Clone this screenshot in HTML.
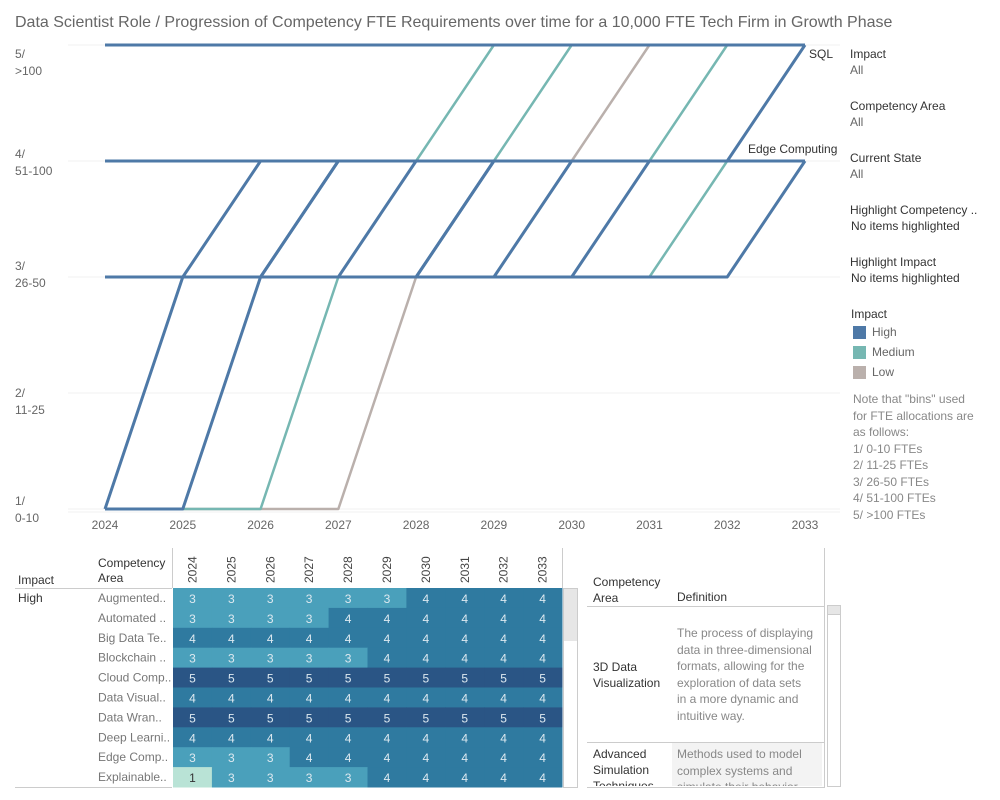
<!DOCTYPE html>
<html><head><meta charset="utf-8">
<style>
body{margin:0;width:1000px;height:800px;background:#fff;font-family:"Liberation Sans",sans-serif;overflow:hidden;position:relative}
.t{position:absolute;font-size:12px;color:#333;white-space:nowrap}
.g{color:#666}
</style></head><body>
<div class="t" style="left:15px;top:14px;font-size:16px;color:#666">Data Scientist Role / Progression of Competency FTE Requirements over time for a 10,000 FTE Tech Firm in Growth Phase</div>

<svg id="chart" width="1000" height="800" style="position:absolute;left:0;top:0"></svg>

<div>
<div class="t" style="left:850px;top:47px">Impact</div>
<div class="t g" style="left:850px;top:63px">All</div>
<div class="t" style="left:850px;top:99px">Competency Area</div>
<div class="t g" style="left:850px;top:115px">All</div>
<div class="t" style="left:850px;top:151px">Current State</div>
<div class="t g" style="left:850px;top:167px">All</div>
<div class="t" style="left:850px;top:203px">Highlight Competency ..</div>
<div class="t" style="left:851px;top:219px">No items highlighted</div>
<div class="t" style="left:850px;top:255px">Highlight Impact</div>
<div class="t" style="left:851px;top:271px">No items highlighted</div>
<div class="t" style="left:851px;top:307px">Impact</div>
<div><div style="position:absolute;left:853px;top:326px;width:13px;height:13px;background:#4e79a7"></div><div class="t g" style="left:872px;top:325px">High</div></div>
<div><div style="position:absolute;left:853px;top:346px;width:13px;height:13px;background:#76b7b2"></div><div class="t g" style="left:872px;top:345px">Medium</div></div>
<div><div style="position:absolute;left:853px;top:366px;width:13px;height:13px;background:#bab0ac"></div><div class="t g" style="left:872px;top:365px">Low</div></div>
<div class="t" style="left:853px;top:391px;color:#888;line-height:16.5px">Note that "bins" used<br>for FTE allocations are<br>as follows:<br>1/ 0-10 FTEs<br>2/ 11-25 FTEs<br>3/ 26-50 FTEs<br>4/ 51-100 FTEs<br>5/ &gt;100 FTEs</div>
</div>

<div>
<div class="t" style="left:593px;top:574px;line-height:16px">Competency<br>Area</div>
<div class="t" style="left:677px;top:590px">Definition</div>
<div style="position:absolute;left:587px;top:606px;width:237px;height:1px;background:#ccc"></div>
<div class="t" style="left:593px;top:659px;line-height:16px">3D Data<br>Visualization</div>
<div class="t g" style="left:677px;top:625px;line-height:16.5px;color:#888">The process of displaying<br>data in three-dimensional<br>formats, allowing for the<br>exploration of data sets<br>in a more dynamic and<br>intuitive way.</div>
<div style="position:absolute;left:587px;top:742px;width:237px;height:1px;background:#ccc"></div>
<div style="position:absolute;left:672px;top:743px;width:150px;height:44px;background:#f3f3f3"></div>
<div class="t" style="left:593px;top:746px;line-height:16px">Advanced<br>Simulation<br>Techniques</div>
<div class="t" style="left:677px;top:746px;line-height:16.5px;color:#888">Methods used to model<br>complex systems and<br>simulate their behavior</div>
<div style="position:absolute;left:587px;top:786px;width:237px;height:14px;background:#fff"></div>
<div style="position:absolute;left:824px;top:548px;width:1px;height:240px;background:#ccc"></div>
<div style="position:absolute;left:827px;top:605px;width:14px;height:182px;border:1px solid #ccc;box-sizing:border-box"><div style="height:8px;background:#e6e6e6;border-bottom:1px solid #ccc"></div></div>
<div style="position:absolute;left:587px;top:787px;width:237px;height:1px;background:#ccc"></div>
</div>

<script>
const years = [2024,2025,2026,2027,2028,2029,2030,2031,2032,2033];
const levelLabels = ["1/\n0-10","2/\n11-25","3/\n26-50","4/\n51-100","5/\n>100"];
const seriesNames = ["Low A","Low B","Medium A","Medium B","Medium C","Medium D","Cloud Computing","Big Data","Augmented","Automated","Blockchain","Edge Computing","Explainable","High F","High G","High H","SQL","High I"];
const seriesImpact = ["Low","Low","Medium","Medium","Medium","Medium","High","High","High","High","High","High","High","High","High","High","High","High"];
const seriesValues = [
 [1,1,1,1,3,3,4,4,4,4],
 [4,4,4,4,4,4,4,5,5,5],
 [1,1,1,3,3,3,3,3,4,4],
 [4,4,4,4,4,5,5,5,5,5],
 [4,4,4,4,4,4,5,5,5,5],
 [4,4,4,4,4,4,4,4,5,5],
 [5,5,5,5,5,5,5,5,5,5],
 [4,4,4,4,4,4,4,4,4,4],
 [3,3,3,3,3,3,4,4,4,4],
 [3,3,3,3,4,4,4,4,4,4],
 [3,3,3,3,3,4,4,4,4,4],
 [3,3,3,4,4,4,4,4,4,4],
 [1,3,3,3,3,4,4,4,4,4],
 [1,1,3,4,4,4,4,4,4,4],
 [3,3,3,3,3,3,3,4,4,4],
 [3,3,3,3,3,3,3,3,3,4],
 [4,4,4,4,4,4,4,4,4,5],
 [3,3,4,4,4,4,4,4,4,4]
];
const hmRows = ["Augmented..","Automated ..","Big Data Te..","Blockchain ..","Cloud Comp..","Data Visual..","Data Wran..","Deep Learni..","Edge Comp..","Explainable.."];
const hmValues = [
 [3,3,3,3,3,3,4,4,4,4],
 [3,3,3,3,4,4,4,4,4,4],
 [4,4,4,4,4,4,4,4,4,4],
 [3,3,3,3,3,4,4,4,4,4],
 [5,5,5,5,5,5,5,5,5,5],
 [4,4,4,4,4,4,4,4,4,4],
 [5,5,5,5,5,5,5,5,5,5],
 [4,4,4,4,4,4,4,4,4,4],
 [3,3,3,4,4,4,4,4,4,4],
 [1,3,3,3,3,4,4,4,4,4]
];

const NS="http://www.w3.org/2000/svg";
const svg=document.getElementById('chart');
function mk(tag,attrs,parent){const e=document.createElementNS(NS,tag);for(const k in attrs)e.setAttribute(k,attrs[k]);(parent||svg).appendChild(e);return e;}
const x=y=>105+(y-2024)*(805-105)/9;
const yv=v=>509-(v-1)*116;
const labelShift=[-4,4,-7,-3,13];
const colors={High:"#4e79a7",Medium:"#76b7b2",Low:"#bab0ac"};

for(let v=1;v<=5;v++){
  const gl=mk('line',{x1:68,x2:840,y1:yv(v),y2:yv(v),stroke:"#f0f0f0"});
  
  
  const parts=levelLabels[v-1].split("\n");
  const t=mk('text',{x:15,y:yv(v)+labelShift[v-1],fill:"#666","font-size":12,"font-family":"Liberation Sans"});
  
  
  mk('tspan',{x:15,dy:0},t).textContent=parts[0];
  mk('tspan',{x:15,dy:17},t).textContent=parts[1];
}
mk('line',{x1:68,x2:840,y1:512,y2:512,stroke:"#f2f2f2"});
years.forEach(yr=>{
  const t=mk('text',{x:x(yr),y:529,fill:"#666","font-size":12,"text-anchor":"middle","font-family":"Liberation Sans"});
  
  
  t.textContent=yr;
});
["Low","Medium","High"].forEach(imp=>{
  seriesValues.forEach((vals,i)=>{
    if(seriesImpact[i]!==imp)return;
    const p=mk('polyline',{points:vals.map((v,j)=>x(years[j])+","+yv(v)).join(" "),fill:"none",stroke:colors[imp],"stroke-width":imp==="High"?3:2.5,"stroke-linejoin":"round"});
    
    
  });
});
let lb=mk('text',{x:809,y:58,fill:"#333","font-size":12,"font-family":"Liberation Sans"});


lb.textContent="SQL";
lb=mk('text',{x:748,y:153,fill:"#333","font-size":12,"font-family":"Liberation Sans"});


lb.textContent="Edge Computing";

const hx0=173,cw=38.9,hy0=588,rh=19.9;
const hmColors={1:"#b9e3d6",2:"#8fcfc5",3:"#4aa0bb",4:"#2f7aa0",5:"#2a5585"};
function txt(s,a,name){const t=mk('text',Object.assign({fill:"#333","font-size":12,"font-family":"Liberation Sans"},a));t.textContent=s;return t;}
txt("Impact",{x:18,y:584},"hm-impact-header");
const ca=txt("",{x:98,y:567},"hm-area-header");
mk('tspan',{x:98,dy:0},ca).textContent="Competency";
mk('tspan',{x:98,dy:15},ca).textContent="Area";
txt("High",{x:18,y:602},"hm-impact-high");
mk('line',{x1:15,x2:172,y1:588.5,y2:588.5,stroke:"#ccc"});
mk('line',{x1:15,x2:172,y1:787.5,y2:787.5,stroke:"#ccc"});
mk('line',{x1:172.5,x2:172.5,y1:548,y2:588,stroke:"#ccc"});
mk('line',{x1:562.5,x2:562.5,y1:548,y2:588,stroke:"#ccc"});
years.forEach((yr,j)=>{
  const cx=hx0+cw*j+cw/2+4;
  txt(yr,{x:0,y:0,transform:`translate(${cx},583) rotate(-90)`,fill:"#444"},"hm-year-header");
});
hmRows.forEach((r,i)=>{
  txt(r,{x:98,y:hy0+rh*i+14,fill:"#777"},"hm-row-label");
  hmValues[i].forEach((v,j)=>{
    const c=mk('rect',{x:hx0+cw*j,y:hy0+rh*i,width:cw+0.5,height:rh+0.5,fill:hmColors[v]});
    
    
    txt(v,{x:hx0+cw*j+cw/2,y:hy0+rh*i+15,"text-anchor":"middle",fill:v<=2?"#333":"#dde9f0"},"heatmap-value");
  });
});
const sb=mk('rect',{x:563.5,y:588.5,width:14,height:199,fill:"#fff",stroke:"#ccc"});


mk('rect',{x:564,y:589,width:13,height:52,fill:"#e6e6e6"});
</script>
</body></html>
